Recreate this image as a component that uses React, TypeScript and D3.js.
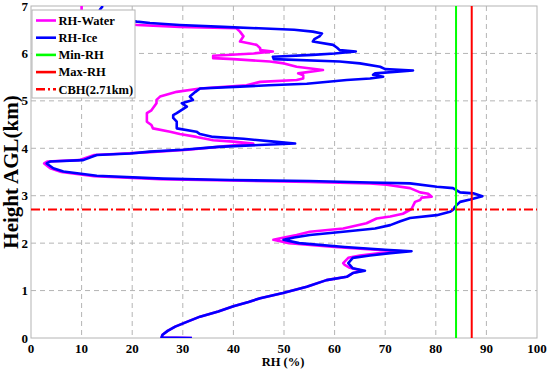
import * as d3 from "d3";

// RH-Ice profile: [height km, RH %]
const rhIce: [number, number][] = [
  [0, 31.8], [0.01, 25.8], [0.07, 26.0], [0.15, 27.0], [0.24, 28.5], [0.34, 30.8],
  [0.45, 33.4], [0.56, 37], [0.67, 40], [0.76, 43], [0.84, 45.3], [0.95, 49.8],
  [1.08, 54.5], [1.22, 58.4], [1.29, 62.4], [1.37, 63.6], [1.42, 66], [1.47, 63.6],
  [1.58, 62.7], [1.69, 63.6], [1.74, 67], [1.79, 71], [1.83, 75.2], [1.86, 70],
  [1.92, 62], [2.0, 53], [2.07, 49.9], [2.12, 52], [2.17, 55.1], [2.24, 61.7],
  [2.31, 68], [2.38, 71], [2.46, 73], [2.53, 74.9], [2.59, 80.2], [2.66, 82.8],
  [2.71, 83.5], [2.77, 83.8], [2.87, 84.8], [2.92, 86.8], [2.99, 89.2], [3.05, 87.4],
  [3.07, 84.8], [3.16, 83.4], [3.19, 80.2], [3.26, 74.9], [3.28, 67], [3.31, 55],
  [3.33, 39.3], [3.36, 26.1], [3.42, 13], [3.51, 6.4], [3.58, 4.4], [3.68, 3.1],
  [3.72, 3.75], [3.75, 10.3], [3.86, 13], [3.89, 19.6], [3.93, 23.5], [3.97, 30],
  [4.03, 37], [4.07, 45], [4.1, 52.2], [4.14, 48], [4.2, 42], [4.24, 36],
  [4.3, 33.4], [4.35, 32.7], [4.42, 28.8], [4.56, 28.8], [4.64, 28.1], [4.7, 28.1],
  [4.74, 28.8], [4.88, 30.8], [4.95, 29.8], [5.02, 32], [5.09, 31.4], [5.19, 32.5],
  [5.26, 33.4], [5.3, 41.3], [5.33, 47], [5.36, 54.5], [5.44, 62.4], [5.47, 67],
  [5.51, 69.6], [5.55, 67.6], [5.58, 68], [5.64, 75.5], [5.67, 70], [5.72, 69],
  [5.79, 65], [5.83, 61], [5.88, 48], [5.93, 47.8], [5.97, 55.7], [6.0, 60],
  [6.04, 64.2], [6.07, 61], [6.12, 60.5], [6.18, 59.7], [6.25, 55.7], [6.3, 56],
  [6.36, 57], [6.42, 57.5], [6.46, 55.7], [6.5, 52], [6.53, 45], [6.56, 38],
  [6.6, 29.4], [6.64, 23.5], [6.67, 20.9], [6.74, 16.9], [6.85, 14], [6.92, 13.6],
  [7.0, 14.2],
];

// RH-Water profile (same as ice below ~1.5 km)
const rhWater: [number, number][] = [
  [0, 31.8], [0.01, 25.8], [0.07, 26.0], [0.15, 27.0], [0.24, 28.5], [0.34, 30.8],
  [0.45, 33.4], [0.56, 37], [0.67, 40], [0.76, 43], [0.84, 45.3], [0.95, 49.8],
  [1.08, 54.5], [1.22, 58.4], [1.29, 62.4], [1.37, 63.6], [1.42, 65.5], [1.48, 63],
  [1.54, 62], [1.58, 61.7], [1.69, 62.7], [1.74, 65], [1.79, 69], [1.83, 73.5],
  [1.86, 68], [1.92, 60], [2.0, 51], [2.07, 47.9], [2.12, 50], [2.17, 52.5],
  [2.24, 55.1], [2.31, 61.7], [2.42, 66.3], [2.52, 68.3], [2.56, 71], [2.62, 73.5],
  [2.72, 75.2], [2.87, 75.9], [2.91, 76.9], [2.96, 77.2], [2.98, 79.2], [3.04, 78.5],
  [3.07, 76.9], [3.16, 74.9], [3.23, 70.3], [3.26, 67], [3.29, 55], [3.32, 39],
  [3.35, 25.5], [3.41, 12.5], [3.5, 6], [3.58, 3.8], [3.68, 2.6], [3.72, 3.2],
  [3.75, 9.5], [3.86, 12.5], [3.89, 18.5], [3.92, 23.5], [3.97, 31], [4.04, 38],
  [4.1, 43.9], [4.14, 40], [4.17, 36], [4.21, 34], [4.24, 32.7], [4.3, 29.4],
  [4.35, 27.5], [4.42, 24.1], [4.49, 23.8], [4.56, 22.9], [4.74, 22.9], [4.8, 23.8],
  [4.95, 24.8], [5.02, 24.8], [5.09, 25.5], [5.19, 28.8], [5.26, 33.4], [5.33, 42.6],
  [5.4, 45.3], [5.44, 52.5], [5.47, 53.8], [5.54, 53.8], [5.58, 52.8], [5.65, 57.7],
  [5.72, 52.5], [5.79, 50], [5.83, 47.2], [5.88, 40], [5.9, 36], [5.95, 36],
  [6.0, 44], [6.04, 47.8], [6.07, 45.3], [6.11, 45.3], [6.18, 44.6], [6.21, 43.3],
  [6.25, 41.3], [6.36, 42], [6.46, 41.3], [6.53, 40.6], [6.56, 29.4], [6.6, 21],
  [6.64, 16], [6.67, 12.3], [6.8, 10.5], [6.92, 10], [7.0, 10],
];

const minRH = 84;
const maxRH = 87.1;
const cbh = 2.71;

const xTicks = [0, 10, 20, 30, 40, 50, 60, 70, 80, 90, 100];
const yTicks = [0, 1, 2, 3, 4, 5, 6, 7];

const legendItems = [
  { label: "RH-Water", color: "#ff00ff", dash: "" },
  { label: "RH-Ice", color: "#0000ff", dash: "" },
  { label: "Min-RH", color: "#00ff00", dash: "" },
  { label: "Max-RH", color: "#ff0000", dash: "" },
  { label: "CBH(2.71km)", color: "#ff0000", dash: "9,3,2,3" },
];

const W = 550, H = 372;
const L = 31, R = 537, T = 6, B = 338;
const FONT = "'Liberation Serif', 'Times New Roman', serif";

export default function App() {
  const x = d3.scaleLinear().domain([0, 100]).range([L, R]);
  const y = d3.scaleLinear().domain([0, 7]).range([B, T]);
  const line = d3.line<[number, number]>().x((d) => x(d[1])).y((d) => y(d[0]));

  return (
    <svg width={W} height={H} style={{ position: "absolute", left: 0, top: 0, background: "#fff" }}
      fontFamily={FONT} fontWeight="bold">
      <defs>
        <clipPath id="plot"><rect x={L} y={T} width={R - L} height={B - T} /></clipPath>
      </defs>
      {/* grid */}
      {xTicks.slice(1, -1).map((t) => (
        <line key={"gx" + t} x1={x(t)} x2={x(t)} y1={T} y2={B} stroke="#b4b4b4" strokeDasharray="5,4" />
      ))}
      {yTicks.slice(1, -1).map((t) => (
        <line key={"gy" + t} x1={L} x2={R} y1={y(t)} y2={y(t)} stroke="#b4b4b4" strokeDasharray="5,4" />
      ))}
      <rect x={L} y={T} width={R - L} height={B - T} fill="none" stroke="#b4b4b4" />

      <g clipPath="url(#plot)" fill="none">
        <path d={line(rhWater) ?? ""} stroke="#ff00ff" strokeWidth={2.6} strokeLinejoin="round" />
        <path d={line(rhIce) ?? ""} stroke="#0000ff" strokeWidth={2.6} strokeLinejoin="round" />
        <line x1={x(minRH)} x2={x(minRH)} y1={T} y2={B} stroke="#00ff00" strokeWidth={2} />
        <line x1={x(maxRH)} x2={x(maxRH)} y1={T} y2={B} stroke="#ff0000" strokeWidth={2} />
        <line x1={L} x2={R} y1={y(cbh)} y2={y(cbh)} stroke="#ff0000" strokeWidth={2} strokeDasharray="9,3,2,3" />
      </g>

      {/* ticks */}
      {xTicks.map((t) => (
        <text key={"tx" + t} x={x(t)} y={353} fontSize={13} textAnchor="middle">{t}</text>
      ))}
      {yTicks.map((t) => (
        <text key={"ty" + t} x={28} y={y(t) + 4.5} fontSize={13} textAnchor="end">{t}</text>
      ))}
      <text x={(L + R) / 2 - 1} y={366} fontSize={12.5} textAnchor="middle">RH (%)</text>
      <text transform={`translate(18, ${(T + B) / 2}) rotate(-90)`} fontSize={21} textAnchor="middle">
        Height AGL(km)
      </text>

      {/* legend */}
      <rect x={32} y={10} width={103} height={88} fill="#fff" stroke="#b4b4b4" />
      {legendItems.map((d, i) => {
        const ly = 20.5 + i * 17.2;
        return (
          <g key={d.label}>
            <line x1={36} x2={56} y1={ly} y2={ly} stroke={d.color} strokeWidth={2.6}
              strokeDasharray={d.dash || undefined} />
            <text x={58.5} y={ly + 4.3} fontSize={12.5}>{d.label}</text>
          </g>
        );
      })}
    </svg>
  );
}
